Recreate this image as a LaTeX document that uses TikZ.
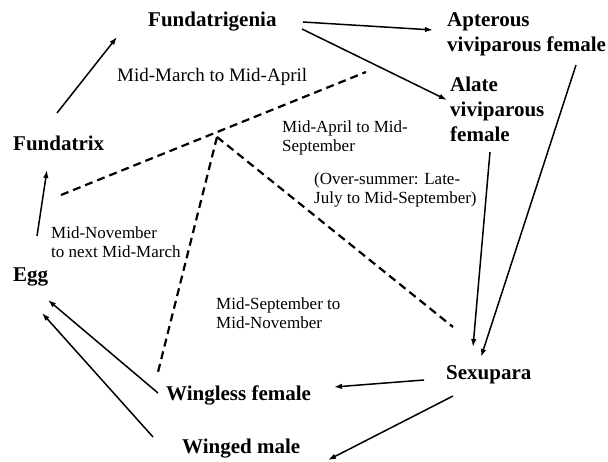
\documentclass[tikz,border=0pt]{standalone}
\usepackage{fontspec}
\setmainfont{Liberation Serif}
\usetikzlibrary{arrows.meta}
\tikzset{
	stage/.style={font=\fontsize{21}{25}\selectfont\bfseries, inner sep=0pt, anchor=base west, align=left},
	period/.style={font=\fontsize{17}{19.5}\selectfont, inner sep=0pt, anchor=base west, align=left},
	flow/.style={line width=1.5pt, -{Latex[length=8pt, width=5.5pt]}},
	season/.style={line width=2.2pt, dash pattern=on 8pt off 5pt}
}

\begin{document}
\begin{tikzpicture}[x=1pt, y=-1pt]
			%%%%% START %%%%%
			\useasboundingbox (0, 0) rectangle (608, 462);
			
			% life stages (base = last line)
			\node[stage] (fundatrigenia) at (148, 26.5) {Fundatrigenia};
			\node[stage] (apterous) at (447, 52) {Apterous\\viviparous female};
			\node[stage] (alate) at (450, 142) {Alate\\viviparous\\female};
			\node[stage] (fundatrix) at (13, 151) {Fundatrix};
			\node[stage] (egg) at (13, 282) {Egg};
			\node[stage] (sexupara) at (446, 380) {Sexupara};
			\node[stage] (wingless) at (166, 400) {Wingless female};
			\node[stage] (winged) at (182, 453) {Winged male};
			
			% seasons
			\node[period, font=\fontsize{19}{22}\selectfont] (marapr) at (117, 82) {Mid-March to Mid-April};
			\node[period] (aprsep) at (282, 152) {Mid-April to Mid-\\September};
			\node[period] (summer) at (314, 204) {(Over-summer: Late-\\July to Mid-September)};
			\node[period] (novmar) at (51, 258) {Mid-November\\to next Mid-March};
			\node[period] (sepnov) at (216, 329) {Mid-September to\\Mid-November};
			
			% season borders
			\coordinate (westend) at (61, 195);
			\coordinate (eastend) at (366, 72);
			\coordinate (fork) at (217, 137);
			\coordinate (southend) at (158, 372);
			\coordinate (sexend) at (453, 327);
			\draw[season] (westend) -- (eastend);
			\draw[season] (fork) -- (southend);
			\draw[season] (fork) -- (sexend);
			
			% spring and summer
			\draw[flow] ([shift={(24,-46)}]egg.base west) -- ([shift={(34,19)}]fundatrix.base west);
			\draw[flow] ([shift={(44,-38)}]fundatrix.base west) -- ([shift={(-31,10.5)}]fundatrigenia.base west);
			\draw[flow] ([shift={(155,-4.5)}]fundatrigenia.base west) -- ([shift={(-14,-22)}]apterous.base west);
			\draw[flow] ([shift={(154,2.5)}]fundatrigenia.base west) -- ([shift={(-3,-42)}]alate.base west);
			\draw[flow] ([shift={(40,10)}]alate.base west) -- ([shift={(27,-33)}]sexupara.base west);
			\draw[flow] ([shift={(129,13)}]apterous.base west) -- ([shift={(35,-23)}]sexupara.base west);
			
			% autumn
			\draw[flow] ([shift={(-22,0)}]sexupara.base west) -- ([shift={(168,-13)}]wingless.base west);
			\draw[flow] ([shift={(7,16)}]sexupara.base west) -- ([shift={(146,7)}]winged.base west);
			\draw[flow] ([shift={(-8,-7)}]wingless.base west) -- ([shift={(35,18)}]egg.base west);
			\draw[flow] ([shift={(-29,-16)}]winged.base west) -- ([shift={(29,31)}]egg.base west);
			
			%%%%% END %%%%%
\end{tikzpicture}
\end{document}
